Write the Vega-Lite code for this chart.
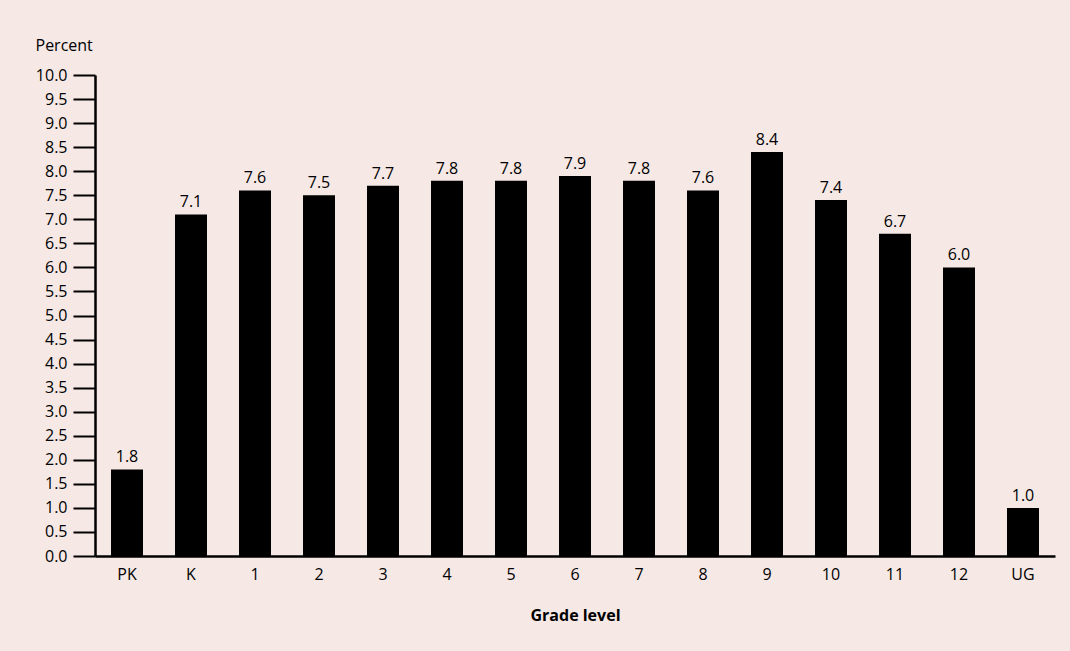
{
  "$schema": "https://vega.github.io/schema/vega-lite/v6.json",
  "width": 960,
  "height": 481,
  "autosize": {"type": "none"},
  "padding": {"left": 95, "top": 75, "right": 15, "bottom": 95},
  "background": "#f6e8e5",
  "config": {
    "view": {"stroke": null},
    "font": "Open Sans",
    "axis": {"labelFont": "Open Sans", "titleFont": "Open Sans", "labelColor": "#000", "titleColor": "#000", "domainColor": "#000", "tickColor": "#000", "grid": false}
  },
  "data": {
    "values": [
      {"grade": "PK", "pct": 1.8},
      {"grade": "K", "pct": 7.1},
      {"grade": "1", "pct": 7.6},
      {"grade": "2", "pct": 7.5},
      {"grade": "3", "pct": 7.7},
      {"grade": "4", "pct": 7.8},
      {"grade": "5", "pct": 7.8},
      {"grade": "6", "pct": 7.9},
      {"grade": "7", "pct": 7.8},
      {"grade": "8", "pct": 7.6},
      {"grade": "9", "pct": 8.4},
      {"grade": "10", "pct": 7.4},
      {"grade": "11", "pct": 6.7},
      {"grade": "12", "pct": 6.0},
      {"grade": "UG", "pct": 1.0}
    ]
  },
  "encoding": {
    "x": {
      "field": "grade", "type": "nominal", "sort": null,
      "scale": {"paddingInner": 0.5, "paddingOuter": 0.25},
      "axis": {
        "title": "Grade level", "titleFontWeight": "bold", "titleFontSize": 16, "titlePadding": 25,
        "labelAngle": 0, "labelFontSize": 16, "labelPadding": 10, "ticks": false, "domainWidth": 2.5
      }
    },
    "y": {
      "field": "pct", "type": "quantitative",
      "scale": {"domain": [0, 10], "nice": false},
      "axis": {
        "values": [0, 0.5, 1, 1.5, 2, 2.5, 3, 3.5, 4, 4.5, 5, 5.5, 6, 6.5, 7, 7.5, 8, 8.5, 9, 9.5, 10],
        "format": ".1f", "labelFontSize": 16, "tickSize": 22, "tickWidth": 2, "domainWidth": 2.5,
        "labelPadding": 6,
        "title": "Percent", "titleAngle": 0, "titleAlign": "left", "titleBaseline": "alphabetic",
        "titleX": -60, "titleY": -25, "titleFontSize": 16, "titleFontWeight": "normal"
      }
    }
  },
  "layer": [
    {"mark": {"type": "bar", "color": "#000"}},
    {"mark": {"type": "text", "dy": -7, "baseline": "alphabetic", "fontSize": 16, "color": "#000"},
     "encoding": {"text": {"field": "pct", "type": "quantitative", "format": ".1f"}}}
  ]
}
